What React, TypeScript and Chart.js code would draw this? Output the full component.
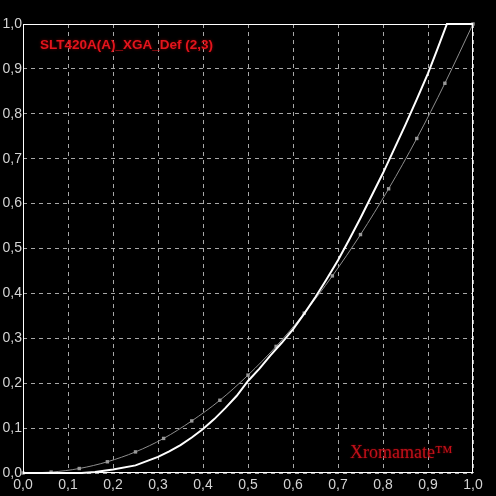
import React, { useEffect, useRef } from "react";
import { Chart, registerables } from "chart.js";

Chart.register(...registerables);

const titleText = "SLT420A(A)_XGA_Def (2,3)";
const watermarkText = "Xromamate\u2122";

const tickValues = [0, 0.1, 0.2, 0.3, 0.4, 0.5, 0.6, 0.7, 0.8, 0.9, 1.0];

// Target gamma curve (gray, with square markers)
const targetX = [0, 0.0625, 0.125, 0.1875, 0.25, 0.3125, 0.375, 0.4375, 0.5, 0.5625, 0.625, 0.6875, 0.75, 0.8125, 0.875, 0.9375, 1.0];
const targetY = [0, 0.002, 0.010, 0.025, 0.047, 0.077, 0.116, 0.162, 0.218, 0.282, 0.356, 0.439, 0.531, 0.633, 0.745, 0.868, 1.0];

// Measured curve (white)
const measuredX = [0, 0.05, 0.1, 0.13, 0.16, 0.2, 0.25, 0.3, 0.325, 0.35, 0.375, 0.4, 0.425, 0.45, 0.475, 0.5, 0.525, 0.55, 0.575, 0.6, 0.625, 0.65, 0.675, 0.7, 0.725, 0.75, 0.775, 0.8, 0.825, 0.85, 0.875, 0.9, 0.92, 0.942, 1.0];
const measuredY = [0, 0, 0, 0, 0.002, 0.008, 0.017, 0.036, 0.048, 0.062, 0.079, 0.098, 0.12, 0.145, 0.172, 0.205, 0.232, 0.262, 0.29, 0.32, 0.355, 0.392, 0.432, 0.474, 0.52, 0.568, 0.618, 0.668, 0.722, 0.776, 0.832, 0.89, 0.942, 1.0, 1.0];

const fmt = (v: number) => v.toFixed(1).replace(".", ",");

export default function App() {
  const ref = useRef<HTMLCanvasElement | null>(null);

  useEffect(() => {
    if (!ref.current) return;
    const overlay = {
      id: "overlay",
      beforeDraw(chart: any) {
        const ctx = chart.ctx;
        ctx.save();
        ctx.fillStyle = "#000000";
        ctx.fillRect(0, 0, chart.width, chart.height);
        ctx.restore();
      },
      afterDraw(chart: any) {
        const ctx = chart.ctx;
        const a = chart.chartArea;
        ctx.save();
        ctx.strokeStyle = "#ffffff";
        ctx.lineWidth = 1;
        ctx.strokeRect(Math.round(a.left) + 0.5, Math.round(a.top) + 0.5, Math.round(a.right - a.left) - 1, Math.round(a.bottom - a.top) - 1);
        ctx.fillStyle = "#e3141c";
        ctx.font = "bold 13.5px 'Liberation Sans', Arial, sans-serif";
        ctx.textBaseline = "middle";
        ctx.textAlign = "left";
        ctx.shadowColor = "rgba(140,0,0,0.8)";
        ctx.shadowBlur = 3;
        ctx.fillText(titleText, a.left + 17, a.top + 21);
        ctx.fillStyle = "#c0101a";
        ctx.font = "18px 'Liberation Serif', 'Times New Roman', serif";
        ctx.shadowBlur = 2;
        ctx.fillText(watermarkText, a.left + 327, a.bottom - 20);
        ctx.restore();
      },
    };

    const chart = new Chart(ref.current, {
      type: "line",
      data: {
        datasets: [
          {
            label: "measured",
            data: measuredX.map((x, i) => ({ x, y: measuredY[i] })),
            borderColor: "#ffffff",
            borderWidth: 2,
            pointRadius: 0,
            tension: 0,
            clip: 4,
          },
          {
            label: "target",
            data: targetX.map((x, i) => ({ x, y: targetY[i] })),
            borderColor: "#8e8e8e",
            backgroundColor: "#9a9a9a",
            borderWidth: 1,
            pointStyle: "rect",
            pointRadius: 2.4,
            pointBorderWidth: 0,
            cubicInterpolationMode: "monotone",
            clip: 4,
          },
        ],
      },
      options: {
        responsive: false,
        animation: false,
        events: [],
        layout: { padding: { top: 24, right: 23, left: 0, bottom: 0 } },
        plugins: { legend: { display: false }, tooltip: { enabled: false }, title: { display: false } },
        scales: {
          x: {
            type: "linear",
            min: 0,
            max: 1,
            afterFit: (s: any) => { s.height = 23; },
            afterBuildTicks: (s: any) => { s.ticks = tickValues.map((v) => ({ value: v })); },
            ticks: {
              color: "#d4d4d4",
              font: { family: "'Liberation Sans Narrow', 'Arial Narrow', 'Liberation Sans', sans-serif", size: 14 },
              padding: 4,
              maxRotation: 0,
              autoSkip: false,
              callback: (v: any) => fmt(Number(v)),
            },
            grid: { color: "#a8a8a8", lineWidth: 1, drawTicks: false },
            border: { display: false, dash: [4, 4] },
          },
          y: {
            type: "linear",
            min: 0,
            max: 1,
            afterFit: (s: any) => { s.width = 23; },
            afterBuildTicks: (s: any) => { s.ticks = tickValues.map((v) => ({ value: v })); },
            ticks: {
              color: "#d4d4d4",
              font: { family: "'Liberation Sans Narrow', 'Arial Narrow', 'Liberation Sans', sans-serif", size: 14 },
              padding: 1,
              autoSkip: false,
              callback: (v: any) => fmt(Number(v)),
            },
            grid: { color: "#a8a8a8", lineWidth: 1, drawTicks: false },
            border: { display: false, dash: [4, 4] },
          },
        },
      },
      plugins: [overlay],
    } as any);
    return () => chart.destroy();
  }, []);

  return (
    <div style={{ position: "absolute", left: 0, top: 0, width: 496, height: 496, background: "#000" }}>
      <canvas ref={ref} width={496} height={496} style={{ display: "block" }} />
    </div>
  );
}
